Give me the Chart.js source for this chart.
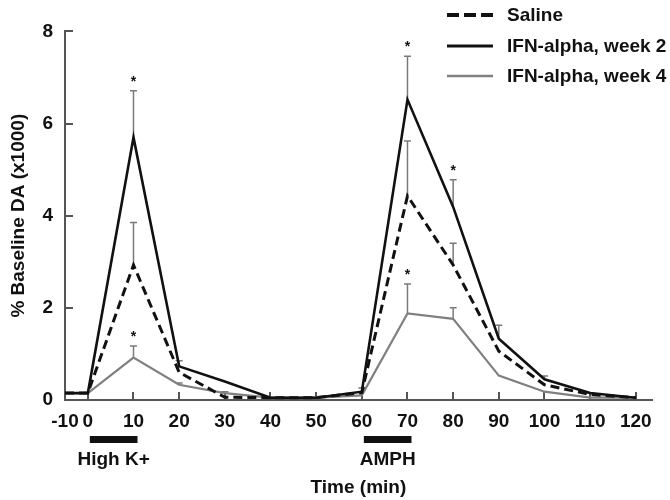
<!DOCTYPE html>
<html>
<head>
<meta charset="utf-8">
<script src="https://cdn.jsdelivr.net/npm/chart.js@4"></script>
<style>
  html, body { margin: 0; padding: 0; background: #fff; }
  #wrap { width: 670px; height: 500px; }
</style>
</head>
<body>
<div id="wrap"><canvas id="grafico"></canvas></div>
<script>
// Datos (valores x1000 del % basal)
const tiempos = [-10, 0, 10, 20, 30, 40, 50, 60, 70, 80, 90, 100, 110, 120];
const salino  = [0.15, 0.15, 2.93, 0.60, 0.06, 0.05, 0.05, 0.16, 4.43, 2.93, 1.06, 0.33, 0.12, 0.05];
const semana2 = [0.15, 0.15, 5.70, 0.73, 0.40, 0.05, 0.05, 0.18, 6.52, 4.19, 1.33, 0.45, 0.15, 0.05];
const semana4 = [0.15, 0.15, 0.92, 0.33, 0.15, 0.05, 0.05, 0.10, 1.88, 1.76, 0.53, 0.18, 0.05, 0.05];

// Extremo superior de las barras de error (null = sin barra)
const errSalino  = [null, null, 3.85, null, null, null, null, null, 5.62, 3.40, null, null, null, null];
const errSemana2 = [null, null, 6.71, 0.85, null, null, null, null, 7.46, 4.78, 1.62, 0.52, 0.15, null];
const errSemana4 = [null, null, 1.17, 0.37, 0.18, null, null, 0.26, 2.52, 2.00, null, null, null, null];

// Asteriscos de significancia (tiempos)
const estrellasSemana2 = [10, 70, 80];
const estrellasSemana4 = [10, 70];

// Ticks y estímulos
const ticksX = [-10, 0, 10, 20, 30, 40, 50, 60, 70, 80, 90, 100, 110, 120];
const ticksY = [0, 2, 4, 6, 8];
const estimInicio = [0, 60];
const estimFin = [10, 70];
const estimNombres = ['High K+', 'AMPH'];

const FUENTE = "'Liberation Sans', Arial, Helvetica, sans-serif";
Chart.defaults.font.family = FUENTE;
Chart.defaults.font.weight = 'bold';
Chart.defaults.font.size = 19;
Chart.defaults.color = '#111';

// Eje de tiempo con el tramo -10..0 comprimido a la mitad (como en la figura)
class EscalaTiempo extends Chart.LinearScale {
  getPixelForValue(v) {
    return super.getPixelForValue(v < 0 ? v / 2 : v);
  }
  getValueForPixel(p) {
    const v = super.getValueForPixel(p);
    return v < 0 ? v * 2 : v;
  }
}
EscalaTiempo.id = 'tiempo';
EscalaTiempo.defaults = Chart.LinearScale.defaults;
Chart.register(EscalaTiempo);

const pares = arr => tiempos.map((t, i) => ({x: t, y: arr[i]}));

const datasets = [
  { label: 'Saline', data: pares(salino), err: errSalino, estrellas: [],
    borderColor: '#111', borderWidth: 3, borderDash: [9, 5], legendWidth: 4, legendDash: [12, 5] },
  { label: 'IFN-alpha, week 2', data: pares(semana2), err: errSemana2, estrellas: estrellasSemana2,
    borderColor: '#111', borderWidth: 2.6, legendWidth: 3 },
  { label: 'IFN-alpha, week 4', data: pares(semana4), err: errSemana4, estrellas: estrellasSemana4,
    borderColor: '#808080', borderWidth: 2.2, legendWidth: 2.5 }
];
datasets.forEach(d => {
  d.pointRadius = 0;
  d.tension = 0;
  d.fill = false;
  d.borderJoinStyle = 'miter';
});

// Barras de error, asteriscos, estímulos y leyenda
const extras = {
  id: 'extras',
  beforeDatasetsDraw(chart) {
    const ctx = chart.ctx;
    const xs = chart.scales.x, ys = chart.scales.y;
    ctx.save();
    ctx.strokeStyle = '#7a7a7a';
    ctx.lineWidth = 1.5;
    chart.data.datasets.forEach(ds => {
      ds.err.forEach((e, i) => {
        if (e === null) return;
        const x = xs.getPixelForValue(tiempos[i]);
        const y0 = ys.getPixelForValue(ds.data[i].y);
        const y1 = ys.getPixelForValue(e);
        ctx.beginPath();
        ctx.moveTo(x, y0);
        ctx.lineTo(x, y1);
        ctx.moveTo(x - 3.5, y1);
        ctx.lineTo(x + 3.5, y1);
        ctx.stroke();
      });
    });
    ctx.restore();
  },
  afterDraw(chart) {
    const ctx = chart.ctx;
    const xs = chart.scales.x, ys = chart.scales.y;
    ctx.save();
    // asteriscos
    ctx.fillStyle = '#111';
    ctx.font = 'bold 14px ' + FUENTE;
    ctx.textAlign = 'center';
    ctx.textBaseline = 'alphabetic';
    chart.data.datasets.forEach(ds => {
      ds.estrellas.forEach(t => {
        const i = tiempos.indexOf(t);
        const y = ys.getPixelForValue(ds.err[i]);
        ctx.fillText('*', xs.getPixelForValue(t), y - 5);
      });
    });
    // estímulos bajo el eje
    ctx.font = 'bold 19px ' + FUENTE;
    ctx.textBaseline = 'middle';
    estimInicio.forEach((t0, k) => {
      const x0 = xs.getPixelForValue(t0) + 2;
      const x1 = xs.getPixelForValue(estimFin[k]) + 4;
      ctx.fillRect(x0, 436, x1 - x0, 7);
      ctx.fillText(estimNombres[k], (x0 + x1) / 2, 460);
    });
    // leyenda
    const filas = [15, 46, 76];
    ctx.textAlign = 'left';
    chart.data.datasets.forEach((ds, k) => {
      ctx.beginPath();
      ctx.strokeStyle = ds.borderColor;
      ctx.lineWidth = ds.legendWidth;
      ctx.setLineDash(ds.legendDash || []);
      ctx.moveTo(447, filas[k]);
      ctx.lineTo(493, filas[k]);
      ctx.stroke();
      ctx.setLineDash([]);
      ctx.fillText(ds.label, 507, filas[k] + 1);
    });
    ctx.restore();
  }
};

const colorEje = '#555';

new Chart(document.getElementById('grafico'), {
  type: 'line',
  data: { datasets },
  options: {
    responsive: true,
    maintainAspectRatio: false,
    animation: false,
    layout: { padding: { top: 11, right: 12, left: 0, bottom: 0 } },
    plugins: {
      legend: { display: false },
      tooltip: { enabled: false }
    },
    scales: {
      x: {
        type: 'tiempo',
        min: -5,
        max: 123.5,
        afterBuildTicks: s => { s.ticks = ticksX.map(v => ({ value: v })); },
        afterFit: s => { s.height = 100; },
        ticks: { padding: 18, maxRotation: 0, autoSkip: false, color: '#111' },
        grid: { drawOnChartArea: false, tickLength: -8, color: colorEje, lineWidth: 2 },
        border: { display: true, color: colorEje, width: 2 },
        title: { display: true, text: 'Time (min)', padding: { top: 0, bottom: 1 }, color: '#111' }
      },
      y: {
        min: 0,
        max: 8,
        afterBuildTicks: s => { s.ticks = ticksY.map(v => ({ value: v })); },
        afterFit: s => { s.width = 65; },
        ticks: { padding: 20, color: '#111' },
        grid: { drawOnChartArea: false, tickLength: -8, color: colorEje, lineWidth: 2 },
        border: { display: true, color: colorEje, width: 2 },
        title: { display: true, text: '% Baseline DA (x1000)', padding: { top: 7, bottom: 0 }, color: '#111' }
      }
    }
  },
  plugins: [extras]
});
</script>
</body>
</html>
